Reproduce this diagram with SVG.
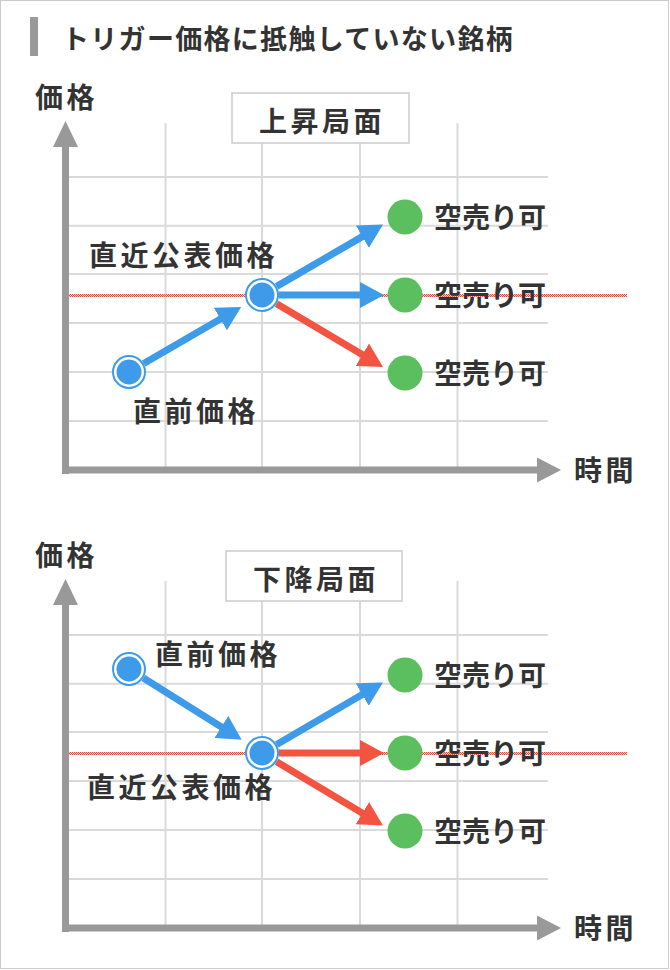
<svg xmlns="http://www.w3.org/2000/svg" width="670" height="970" viewBox="0 0 670 970">
<style>
text{font-family:"Noto Sans CJK JP","Noto Sans CJK SC",sans-serif;fill:#333;}
.title{font-size:27px;font-weight:700;letter-spacing:1.3px;}
.lbl{font-size:28px;font-weight:700;letter-spacing:3.5px;}
.ok{font-size:28px;font-weight:700;letter-spacing:0px;}
.grid{stroke:#dadada;stroke-width:2;fill:none;}
.axis{fill:#999;}
.box{fill:#fff;stroke:#ccc;stroke-width:1.5;}
.ring{fill:#fff;stroke:#3d9be9;stroke-width:2;}
.core{fill:#3d9be9;}
.green{fill:#5bbf60;}
.ab{stroke:#3d9be9;stroke-width:7;fill:none;marker-end:url(#hb);}
.ar{stroke:#f35442;stroke-width:7;fill:none;marker-end:url(#hr);}
</style>
<defs>
<marker id="hb" markerUnits="userSpaceOnUse" viewBox="0 0 24 26" markerWidth="24" markerHeight="26" refX="9" refY="13" orient="auto"><path d="M0,0 L24,13 L0,26 Z" fill="#3d9be9"/></marker>
<marker id="hr" markerUnits="userSpaceOnUse" viewBox="0 0 24 26" markerWidth="24" markerHeight="26" refX="9" refY="13" orient="auto"><path d="M0,0 L24,13 L0,26 Z" fill="#f35442"/></marker>
<pattern id="chk" patternUnits="userSpaceOnUse" width="2" height="2"><rect x="0" y="0" width="2" height="2" fill="#fbd0c8"/><rect x="0" y="0" width="1" height="1" fill="#f04a3a"/><rect x="1" y="1" width="1" height="1" fill="#f04a3a"/></pattern>
</defs>
<rect x="0.5" y="0.5" width="668" height="968" fill="#fff" stroke="#ccc" stroke-width="1"/>
<g id="title">
<rect x="30" y="17" width="8" height="39" fill="#999"/>
<text class="title" x="62" y="49">トリガー価格に抵触していない銘柄</text>
</g>

<!-- Chart 1 -->
<g id="chart1-grid">
<path class="grid" d="M165.5,123V470M262,123V470M360,123V470M457.5,123V470"/>
<path class="grid" d="M69,177H548M69,225.7H548M69,274H548M69,323H548M69,372H548M69,421H548"/>
<rect x="69" y="294" width="558" height="3" fill="url(#chk)"/>
</g>
<g id="chart1-axes">
<rect class="axis" x="62" y="145" width="7" height="329"/>
<polygon class="axis" points="53,147 65.5,121 78,147"/>
<rect class="axis" x="62" y="466.5" width="477" height="7"/>
<polygon class="axis" points="537,457.5 561,470 537,482.5"/>
<text class="lbl" x="35" y="108">価格</text>
<text class="lbl" x="574" y="481">時間</text>
</g>
<g id="chart1-phase">
<rect class="box" x="232" y="93" width="177" height="50"/>
<text class="lbl" x="322" y="132" text-anchor="middle">上昇局面</text>
</g>
<g id="chart1-connectors">
<line class="ab" x1="143.7" y1="363.5" x2="228.2" y2="314.5"/>
<line class="ab" x1="276.7" y1="286.4" x2="370.1" y2="232.1"/>
<line class="ab" x1="279" y1="295" x2="369" y2="295"/>
<line class="ar" x1="276.6" y1="303.7" x2="370.1" y2="359.3"/>
</g>
<g id="c1-prev">
<circle class="ring" cx="129" cy="372" r="16"/>
<circle class="core" cx="129" cy="372" r="12.5"/>
<text class="lbl" x="133" y="422">直前価格</text>
</g>
<g id="c1-latest">
<circle class="ring" cx="262" cy="295" r="16"/>
<circle class="core" cx="262" cy="295" r="12.5"/>
<text class="lbl" x="89" y="266">直近公表価格</text>
</g>
<g id="c1-up"><circle class="green" cx="405" cy="217" r="17.5"/><text class="ok" x="434" y="228">空売り可</text></g>
<g id="c1-flat"><circle class="green" cx="405" cy="295" r="17.5"/><text class="ok" x="434" y="306">空売り可</text></g>
<g id="c1-down"><circle class="green" cx="405" cy="373" r="17.5"/><text class="ok" x="434" y="384">空売り可</text></g>

<!-- Chart 2 -->
<g id="chart2-grid">
<path class="grid" d="M165.5,581V928M262,581V928M360,581V928M457.5,581V928"/>
<path class="grid" d="M69,635H548M69,683.7H548M69,732H548M69,781H548M69,830H548M69,879H548"/>
<rect x="69" y="752" width="558" height="3" fill="url(#chk)"/>
</g>
<g id="chart2-axes">
<rect class="axis" x="62" y="603" width="7" height="329"/>
<polygon class="axis" points="53,605 65.5,579 78,605"/>
<rect class="axis" x="62" y="924.5" width="477" height="7"/>
<polygon class="axis" points="537,915.5 561,928 537,940.5"/>
<text class="lbl" x="35" y="566">価格</text>
<text class="lbl" x="574" y="939">時間</text>
</g>
<g id="chart2-phase">
<rect class="box" x="226" y="551" width="176" height="50"/>
<text class="lbl" x="316" y="590" text-anchor="middle">下降局面</text>
</g>
<g id="chart2-connectors">
<line class="ab" x1="143.4" y1="678" x2="229" y2="731.7"/>
<line class="ab" x1="276.7" y1="744.4" x2="370" y2="690"/>
<line class="ar" x1="279" y1="753" x2="369" y2="753"/>
<line class="ar" x1="276.6" y1="761.7" x2="370.1" y2="817.8"/>
</g>
<g id="c2-prev">
<circle class="ring" cx="129" cy="669" r="16"/>
<circle class="core" cx="129" cy="669" r="12.5"/>
<text class="lbl" x="155" y="665">直前価格</text>
</g>
<g id="c2-latest">
<circle class="ring" cx="262" cy="753" r="16"/>
<circle class="core" cx="262" cy="753" r="12.5"/>
<text class="lbl" x="87" y="798">直近公表価格</text>
</g>
<g id="c2-up"><circle class="green" cx="405" cy="675" r="17.5"/><text class="ok" x="434" y="686">空売り可</text></g>
<g id="c2-flat"><circle class="green" cx="405" cy="753" r="17.5"/><text class="ok" x="434" y="764">空売り可</text></g>
<g id="c2-down"><circle class="green" cx="405" cy="831" r="17.5"/><text class="ok" x="434" y="842">空売り可</text></g>
</svg>
